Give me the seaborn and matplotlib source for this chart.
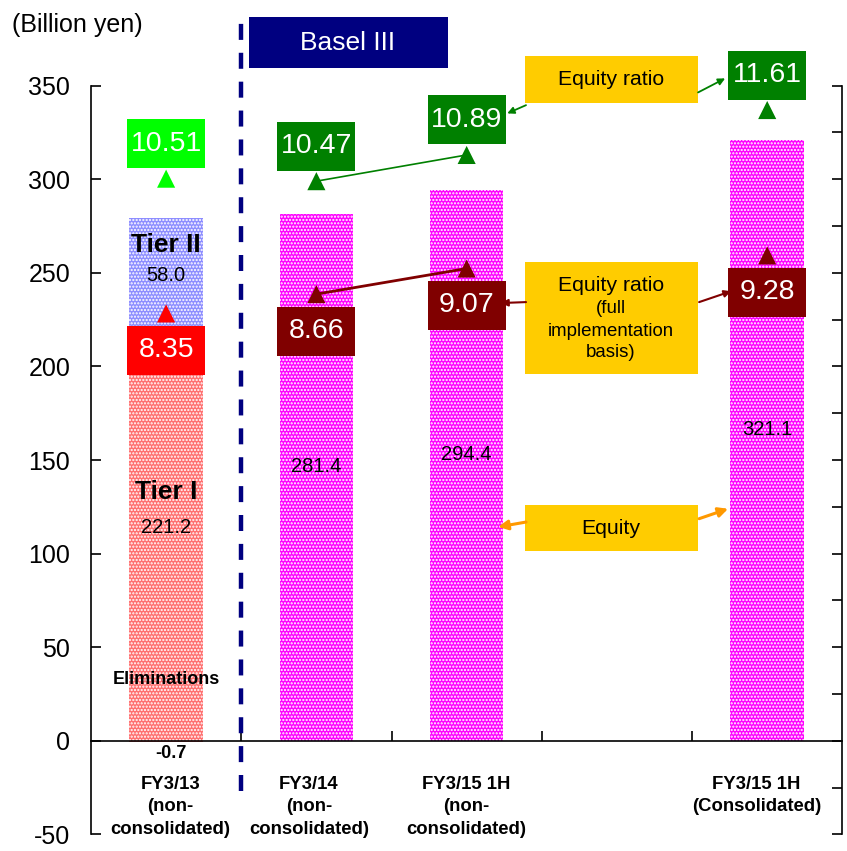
import matplotlib
matplotlib.use("Agg")
import matplotlib.pyplot as plt
from matplotlib.patches import Rectangle
from matplotlib.path import Path
import pandas as pd
import seaborn as sns

# ---------------- data ----------------
period_keys = ["FY3/13", "FY3/14", "FY3/15 1H", "gap", "FY3/15 1H cons"]
period_labels = ["FY3/13\n(non-\nconsolidated)", "FY3/14\n(non-\nconsolidated)",
                 "FY3/15 1H\n(non-\nconsolidated)", "", "FY3/15 1H\n(Consolidated)"]

tier1_capital = 221.2
tier2_capital = 58.0
eliminations = -0.7

equity_periods = ["FY3/14", "FY3/15 1H", "FY3/15 1H cons"]
equity_values = [281.4, 294.4, 321.1]

ratio_periods = ["FY3/13", "FY3/14", "FY3/15 1H", "FY3/15 1H cons"]
equity_ratio = [10.51, 10.47, 10.89, 11.61]
equity_ratio_full = [8.35, 8.66, 9.07, 9.28]

# ---------------- style ----------------
sns.set_theme(style="white")
plt.rcParams["font.family"] = ["Liberation Sans", "DejaVu Sans"]
plt.rcParams["hatch.linewidth"] = 1.05
plt.rcParams["axes.unicode_minus"] = False
for key in ("text.color", "axes.labelcolor", "xtick.color", "ytick.color"):
    plt.rcParams[key] = "black"

C_TIER1 = "#FF6F6F"
C_TIER2 = "#8C8CFF"
C_EQUITY = "#FF00FF"
C_GREEN = "#008000"
C_LIME = "#00FF00"
C_MAROON = "#800000"
C_RED = "#FF0000"
C_GOLD = "#FFCC00"
C_NAVY = "#000080"
C_ORANGE = "#FF9900"
DOTS = "....."
RATIO_FS = 20.5


def label_box(x0, y0, width, height, mutation_size):
    """Fixed-proportion rectangle centred on the text, for the ratio labels."""
    cx, cy = x0 + width / 2, y0 + height / 2
    hw, hh = 1.37 * mutation_size, 0.86 * mutation_size
    return Path([(cx - hw, cy - hh), (cx + hw, cy - hh), (cx + hw, cy + hh),
                 (cx - hw, cy + hh), (cx - hw, cy - hh)], closed=True)


fig = plt.figure(figsize=(8.47, 8.51), dpi=100)
ax = fig.add_axes([0.1074, 0.0194, 0.8871, 0.8799])

# ---------------- bars ----------------
totals = pd.DataFrame({
    "period": ["FY3/13"] + equity_periods,
    "capital": [tier1_capital + tier2_capital] + equity_values,
    "segment": ["Tier II", "Equity", "Equity", "Equity"],
})
sns.barplot(data=totals, x="period", y="capital", hue="segment", order=period_keys,
            palette={"Tier II": C_TIER2, "Equity": C_EQUITY}, dodge=False,
            width=0.49, saturation=1, errorbar=None, legend=False, ax=ax)

tier1 = pd.DataFrame({
    "period": ["FY3/13", "FY3/13"],
    "capital": [tier1_capital, eliminations],
    "segment": ["Tier I", "Eliminations"],
})
sns.barplot(data=tier1, x="period", y="capital", hue="segment", order=period_keys,
            palette={"Tier I": C_TIER1, "Eliminations": C_TIER1}, dodge=False,
            width=0.49, saturation=1, errorbar=None, legend=False, ax=ax)

for bar in ax.patches:
    bar.set_hatch(DOTS)
    bar.set_edgecolor("white")
    bar.set_linewidth(0)

ax.set_xlim(-0.5, len(period_keys) - 0.5)
ax.set_ylim(-50, 350)
ax.set_xlabel("")
ax.set_ylabel("")

# axes frame: left spine, zero line with upward boundary ticks
ax.spines["top"].set_visible(False)
ax.spines["right"].set_visible(False)
ax.spines["bottom"].set_position(("data", 0))
for side in ("left", "bottom"):
    ax.spines[side].set_color("black")
    ax.spines[side].set_linewidth(1.2)

ax.set_yticks(range(-50, 351, 50))
ax.tick_params(axis="y", direction="in", length=7, width=1.2, color="black",
               labelsize=18, pad=15, left=True)
ax.set_xticks([i + 0.5 for i in range(len(period_keys) - 1)])
ax.set_xticklabels([])
ax.tick_params(axis="x", direction="in", length=7, width=1.2, color="black", bottom=True)

# category captions below the zero line
label_shift = [0.03, -0.05, 0.0, 0.0, -0.07]
for i, (lab, dx) in enumerate(zip(period_labels, label_shift)):
    if lab:
        ax.text(i + dx, -18.5, lab, ha="center", va="top", fontsize=13.3,
                fontweight="bold", linespacing=1.45, clip_on=False)

# text inside bars
x0 = period_keys.index("FY3/13")
top = tier1_capital + tier2_capital
ax.text(x0, top - 14.5, "Tier II", ha="center", va="center", fontsize=19, fontweight="bold")
ax.text(x0, top - 30.5, f"{tier2_capital:.1f}", ha="center", va="center", fontsize=14.5)
ax.text(x0, tier1_capital * 0.6, "Tier I", ha="center", va="center", fontsize=19, fontweight="bold")
ax.text(x0, tier1_capital * 0.515, f"{tier1_capital:.1f}", ha="center", va="center", fontsize=14.5,
        bbox=dict(boxstyle="square,pad=0.25", fc=C_TIER1, ec="white", lw=0, hatch=DOTS))
ax.text(x0, 33, "Eliminations", ha="center", va="center", fontsize=13, fontweight="bold")
ax.text(x0 + 0.03, -7, f"{eliminations:.1f}", ha="center", va="center", fontsize=13, fontweight="bold")

for p, v in zip(equity_periods, equity_values):
    ax.text(period_keys.index(p), v / 2 + 6, f"{v:.1f}", ha="center", va="center", fontsize=14.5,
            bbox=dict(boxstyle="square,pad=0.3", fc=C_EQUITY, ec="white", lw=0, hatch=DOTS))

# Basel III boundary
ax.plot([0.5, 0.5], [-27, 390], color=C_NAVY, lw=3.2, linestyle=(0, (3.6, 2.9)),
        clip_on=False, zorder=5)

# ---------------- ratio axis ----------------
ax2 = ax.twinx()
for side in ("top", "left", "bottom"):
    ax2.spines[side].set_visible(False)
ax2.spines["right"].set_color("black")
ax2.spines["right"].set_linewidth(1.2)

ratio_x = [period_keys.index(p) for p in ratio_periods]

# connector lines between neighbouring ratio markers
ax2.plot(ratio_x[1:3], equity_ratio[1:3], color=C_GREEN, lw=1.2, zorder=2)
ax2.plot(ratio_x[1:3], equity_ratio_full[1:3], color=C_MAROON, lw=2.0, zorder=2)

green_cols = [C_LIME, C_GREEN, C_GREEN, C_GREEN]
full_cols = [C_RED, C_MAROON, C_MAROON, C_MAROON]
sns.scatterplot(x=ratio_x, y=equity_ratio, hue=ratio_periods, palette=green_cols,
                marker="^", s=170, linewidth=0, legend=False, ax=ax2, zorder=3)
sns.scatterplot(x=ratio_x, y=equity_ratio_full, hue=ratio_periods, palette=full_cols,
                marker="^", s=170, linewidth=0, legend=False, ax=ax2, zorder=3)
ax2.set_ylim(0, 12)
ax2.set_yticks([i * 0.75 for i in range(17)])
ax2.set_yticklabels([])
ax2.tick_params(axis="y", direction="in", length=7, width=1.2, color="black", right=True)
ax2.set_ylabel("")

for x, r, c in zip(ratio_x, equity_ratio, green_cols):
    ax2.annotate(f"{r:.2f}", (x, r), xytext=(0, 25.2), textcoords="offset points",
                 ha="center", va="center", color="white", fontsize=RATIO_FS,
                 bbox=dict(boxstyle=label_box, fc=c, ec="none"), zorder=4)
for x, r, c in zip(ratio_x, equity_ratio_full, full_cols):
    ax2.annotate(f"{r:.2f}", (x, r), xytext=(0, -26.6), textcoords="offset points",
                 ha="center", va="center", color="white", fontsize=RATIO_FS,
                 bbox=dict(boxstyle=label_box, fc=c, ec="none"), zorder=4)

# ---------------- callout boxes ----------------
def callout(y0, y1, lines):
    ax.add_patch(Rectangle((2.385, y0), 1.155, y1 - y0, fc=C_GOLD, ec="none",
                           clip_on=False, zorder=6))
    for txt, yy, fs in lines:
        ax.text(2.96, yy, txt, ha="center", va="center", fontsize=fs, zorder=7, clip_on=False)

callout(340.5, 365.7, [("Equity ratio", 353.5, 15.3)])
callout(195.8, 255.6, [("Equity ratio", 243.5, 15.3), ("(full", 231.0, 13.4),
                       ("implementation", 218.8, 13.4), ("basis)", 207.5, 13.4)])
callout(101.2, 125.8, [("Equity", 113.5, 15.3)])


def arrow(xy_from, xy_to, color, lw, scale):
    ax.annotate("", xy=xy_to, xytext=xy_from,
                arrowprops=dict(arrowstyle="-|>", color=color, lw=lw, shrinkA=0, shrinkB=0,
                                mutation_scale=scale),
                annotation_clip=False, zorder=6)


arrow((2.395, 339.6), (2.270, 335.2), C_GREEN, 1.3, 10)
arrow((3.540, 346.4), (3.720, 353.9), C_GREEN, 1.3, 10)
arrow((2.395, 234.4), (2.228, 233.9), C_MAROON, 1.5, 10)
arrow((3.547, 234.4), (3.760, 240.2), C_MAROON, 1.5, 10)
arrow((2.395, 116.9), (2.210, 114.3), C_ORANGE, 2.2, 14)
arrow((3.547, 118.7), (3.740, 124.0), C_ORANGE, 2.2, 14)

# ---------------- header elements ----------------
fig.text(12 / 847, 1 - 25 / 851, "(Billion yen)", ha="left", va="center", fontsize=18)
fig.patches.append(Rectangle((249 / 847, 1 - 68 / 851), 199 / 847, 51 / 851,
                             transform=fig.transFigure, fc=C_NAVY, ec="none"))
fig.text(348 / 847, 1 - 43 / 851, "Basel III", ha="center", va="center",
         fontsize=19, color="white")

fig.savefig("out.png", dpi=100)
